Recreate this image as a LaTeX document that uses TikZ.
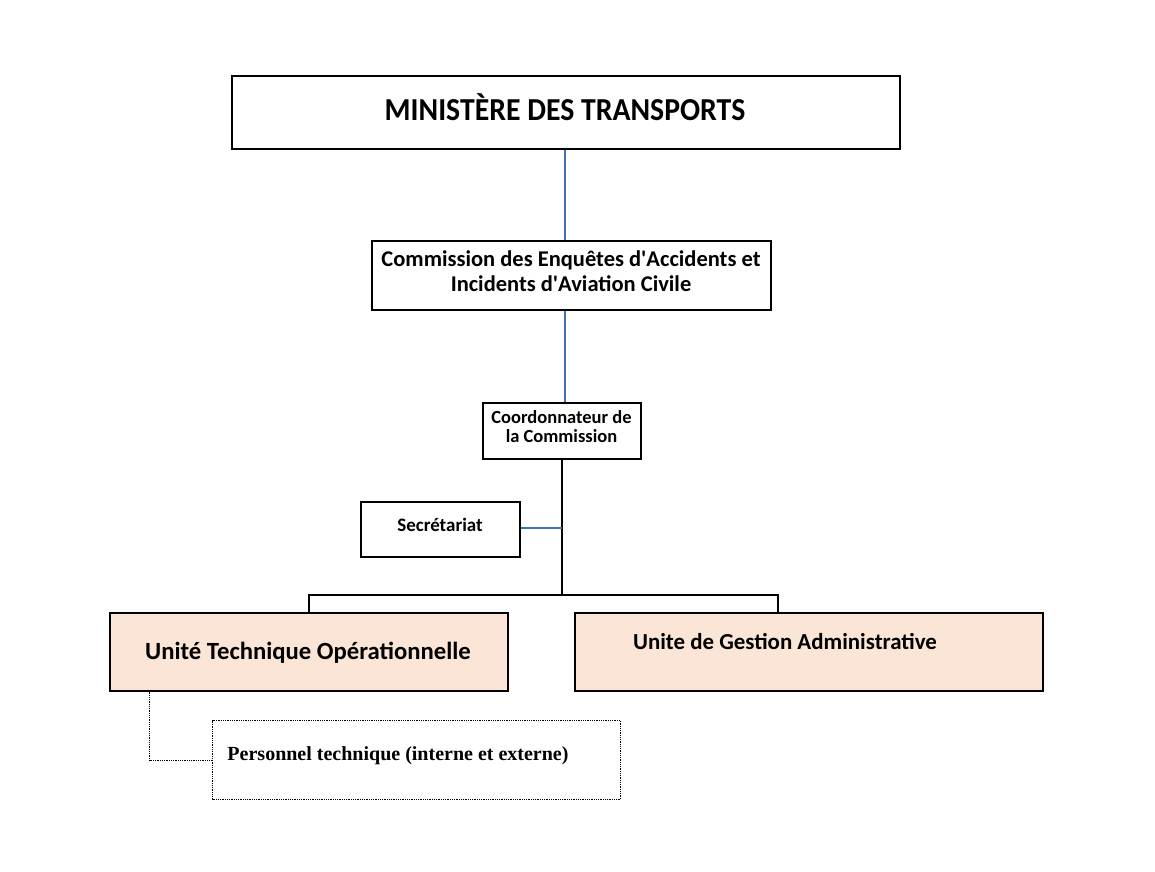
\documentclass[tikz,border=0pt]{standalone}
\usepackage{fontspec}
\setmainfont{Carlito}
\newfontfamily\timesfont{Liberation Serif}
\definecolor{peach}{RGB}{251,229,214}
\definecolor{linkblue}{RGB}{68,114,176}
\begin{document}
\begin{tikzpicture}[x=1pt,y=-1pt,
  box/.style={draw=black, line width=2pt, inner sep=0pt},
  unitbox/.style={box, fill=peach},
  dotbox/.style={draw=black, densely dotted, line width=0.8pt, inner sep=0pt},
  txt/.style={inner sep=0pt, align=center, font=\bfseries},
  bluelink/.style={draw=linkblue, line width=2pt},
  blacklink/.style={draw=black, line width=2pt},
  dotlink/.style={draw=black, densely dotted, line width=0.8pt}]
\useasboundingbox (0,0) rectangle (1155,871);
\fill[white] (0,0) rectangle (1155,871);
% boxes
\node[box, minimum width=668pt, minimum height=73pt] (min) at (565.5,112) {};
\node[box, minimum width=399pt, minimum height=69pt] (comm) at (571,275) {};
\node[box, minimum width=158pt, minimum height=56pt] (coord) at (561.5,430.5) {};
\node[box, minimum width=159pt, minimum height=55pt] (sec) at (440,529) {};
\node[unitbox, minimum width=398pt, minimum height=78pt] (uto) at (308.5,651.5) {};
\node[unitbox, minimum width=468pt, minimum height=78pt] (uga) at (808.5,651.5) {};
\node[dotbox, minimum width=408pt, minimum height=79pt] (pers) at (416.5,760) {};
% texts
\node[txt, font=\bfseries\fontsize{32}{34}\selectfont, xscale=0.93] (tmin) at (565,107) {MINISTÈRE DES TRANSPORTS};
\node[txt, font=\bfseries\fontsize{22.5}{25}\selectfont] (tcomm) at (571,271) {Commission des Enquêtes d\textquotesingle Accidents et\\Incidents d\textquotesingle Aviation Civile};
\node[txt, font=\bfseries\fontsize{18.5}{19}\selectfont] (tcoord) at (561.5,427) {Coordonnateur de\\la Commission};
\node[txt, font=\bfseries\fontsize{19}{20}\selectfont] (tsec) at (440,525) {Secrétariat};
\node[txt, font=\bfseries\fontsize{24.7}{26}\selectfont] (tuto) at (308,653) {Unité Technique Opérationnelle};
\node[txt, font=\bfseries\fontsize{22.9}{25}\selectfont] (tuga) at (785,642) {Unite de Gestion Administrative};
\node[txt, font=\timesfont\bfseries\fontsize{20}{22}\selectfont] (tpers) at (398,756) {Personnel technique (interne et externe)};
% connectors
\coordinate (bar) at (562,595);
\coordinate (secj) at (562,528);
\coordinate (vx) at (565,0);
\draw[bluelink] (min.south -| vx) -- (comm.north -| vx);
\draw[bluelink] (comm.south -| vx) -- (coord.north -| vx);
\draw[blacklink] (coord.south -| bar) -- (bar);
\draw[bluelink] (sec.east |- secj) -- (secj);
\draw[blacklink] (bar) -| (uto.north);
\draw[blacklink] (bar) -| ([xshift=-30.5pt]uga.north);
\draw[dotlink] ([xshift=41pt]uto.south west) |- (pers.west);
\end{tikzpicture}
\end{document}
